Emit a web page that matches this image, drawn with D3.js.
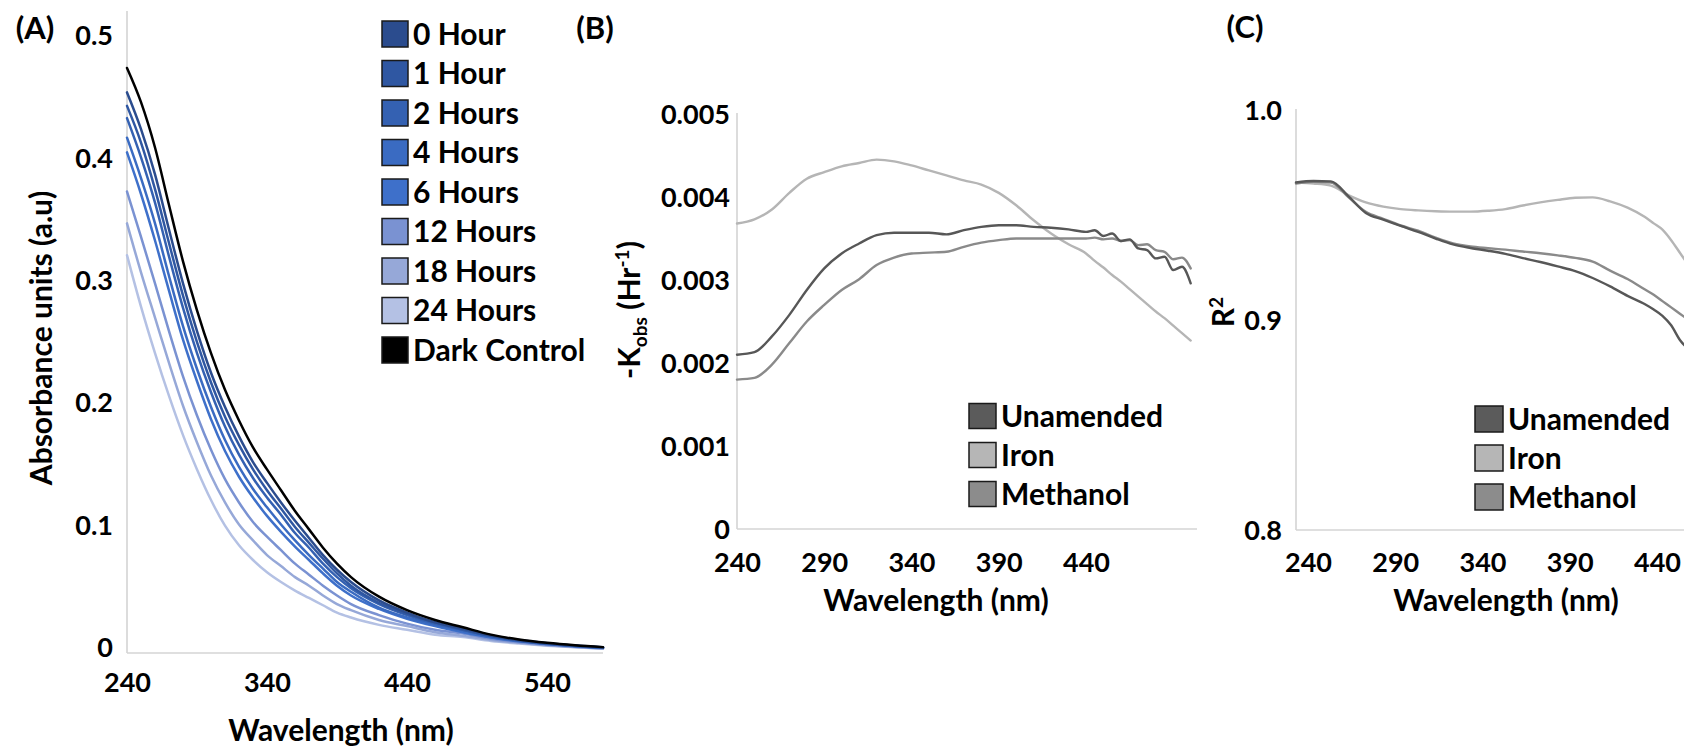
<!DOCTYPE html>
<html>
<head>
<meta charset="utf-8">
<script src="https://cdn.jsdelivr.net/npm/d3@7"></script>
<style>
  html, body { margin: 0; padding: 0; background: #ffffff; }
  svg { display: block; font-family: Lato, "Open Sans", "Noto Sans", sans-serif; font-weight: 700; }
</style>
</head>
<body>
<svg id="fig" width="1684" height="747"></svg>
<script>
// ---------- Panel A: absorbance spectra over irradiation time ----------
const wavelengthsA = [240,250,260,270,280,290,300,310,320,330,340,350,360,370,380,390,400,420,440,460,480,500,520,540,560,580];
const hour0  = [.458,.428,.391,.346,.302,.263,.229,.201,.177,.156,.139,.123,.108,.094,.080,.068,.058,.043,.033,.025,.020,.0143,.0106,.0080,.0061,.0046];
const hour1  = [.447,.417,.379,.335,.292,.254,.221,.193,.170,.150,.133,.118,.103,.090,.077,.065,.055,.041,.032,.025,.019,.0140,.0103,.0078,.0060,.0045];
const hour2  = [.437,.405,.368,.324,.282,.245,.213,.185,.162,.143,.127,.113,.098,.086,.073,.062,.053,.040,.031,.024,.019,.0136,.0101,.0077,.0058,.0044];
const hour4  = [.421,.388,.351,.308,.267,.232,.201,.174,.152,.134,.119,.105,.092,.080,.069,.058,.050,.037,.029,.023,.018,.0131,.0098,.0074,.0057,.0043];
const hour6  = [.409,.375,.337,.296,.256,.222,.191,.165,.144,.127,.112,.099,.087,.076,.065,.055,.047,.036,.028,.022,.017,.0127,.0095,.0073,.0055,.0042];
const hour12 = [.377,.340,.302,.263,.226,.194,.166,.142,.123,.107,.095,.084,.073,.064,.055,.047,.040,.031,.024,.019,.016,.0116,.0088,.0068,.0052,.0039];
const hour18 = [.351,.311,.274,.237,.202,.172,.145,.123,.105,.092,.080,.071,.062,.055,.047,.040,.035,.027,.022,.017,.014,.0107,.0083,.0064,.0049,.0037];
const hour24 = [.325,.283,.245,.210,.178,.150,.125,.104,.088,.076,.066,.058,.051,.045,.039,.033,.029,.023,.019,.015,.013,.0098,.0077,.0060,.0046,.0035];
const darkControl = [.478,.450,.413,.366,.320,.280,.245,.215,.190,.168,.150,.133,.116,.101,.086,.073,.062,.046,.035,.027,.021,.015,.011,.0083,.0063,.0048];

const seriesNamesA = ["0 Hour","1 Hour","2 Hours","4 Hours","6 Hours","12 Hours","18 Hours","24 Hours","Dark Control"];
const seriesValuesA = [hour0,hour1,hour2,hour4,hour6,hour12,hour18,hour24,darkControl];
const seriesColorsA = ["#2b4c8e","#2f57a2","#3461b2","#3a6bc2","#3e70ca","#7a92d2","#96a8d8","#b4c1e4","#000000"];
const xTicksA = [240,340,440,540];
const yTicksA = [0,0.1,0.2,0.3,0.4,0.5];

// ---------- Panels B and C: rate constants and fit quality ----------
const wavelengthsB = [240,250,260,270,280,290,300,310,320,330,340,350,360,370,380,390,400,410,420,430,440,445,450,455,460,465,470,475,480,485,490,495,500];
const kUnamended = [.00210,.00213,.00232,.00258,.00288,.00314,.00332,.00344,.00354,.00357,.00357,.00357,.00355,.00360,.00364,.00366,.00366,.00364,.00363,.00361,.00358,.00360,.00353,.00356,.00347,.00349,.00338,.00336,.00326,.00328,.00312,.00316,.00296];
const kIron      = [.00368,.00373,.00385,.00405,.00422,.00430,.00437,.00441,.00445,.00443,.00438,.00432,.00426,.00420,.00415,.00405,.00390,.00372,.00356,.00343,.00332,.00323,.00315,.00306,.00298,.00289,.00280,.00271,.00262,.00254,.00245,.00236,.00227];
const kMethanol  = [.00180,.00182,.00198,.00224,.00250,.00270,.00288,.00301,.00318,.00327,.00332,.00333,.00334,.00340,.00345,.00348,.00350,.00350,.00350,.00350,.00350,.00351,.00349,.00350,.00347,.00348,.00342,.00343,.00336,.00334,.00325,.00327,.00314];

const wavelengthsC = [240,250,260,270,280,290,300,310,320,330,340,350,360,370,380,390,400,410,420,430,440,445,450,455,460,465];
const r2Unamended = [.9655,.9662,.9660,.9590,.9510,.9478,.9448,.9420,.9388,.9360,.9343,.9330,.9315,.9295,.9276,.9255,.9233,.9200,.9160,.9115,.9075,.9050,.9020,.8975,.8905,.8860];
const r2Iron      = [.9655,.9650,.9640,.9595,.9560,.9540,.9528,.9522,.9518,.9516,.9516,.9520,.9528,.9545,.9560,.9572,.9582,.9584,.9565,.9535,.9490,.9460,.9430,.9380,.9320,.9260];
const r2Methanol  = [.9650,.9658,.9655,.9585,.9515,.9482,.9450,.9425,.9392,.9365,.9350,.9342,.9335,.9326,.9318,.9308,.9296,.9278,.9235,.9195,.9145,.9120,.9090,.9060,.9030,.9000];

const treatmentNames = ["Unamended","Iron","Methanol"];
const treatmentLine  = ["#575757","#b5b5b5","#8a8a8a"];
const treatmentSwatch = ["#5b5b5b","#b6b6b6","#8c8c8c"];
const xTicksBC = [240,290,340,390,440];
const yTicksB = [0,0.001,0.002,0.003,0.004,0.005];
const yTicksC = [0.8,0.9,1.0];

// ---------- drawing ----------
const svg = d3.select("#fig");
const AXIS_GREY = "#d4d4d4";
const TICK_FONT = 27, TITLE_FONT = 30, LEGEND_FONT = 30, PANEL_FONT = 31;

function axisLines(x0, x1, y0, y1) {
  svg.append("line").attr("x1", x0).attr("x2", x0).attr("y1", y0).attr("y2", y1)
    .attr("stroke", AXIS_GREY).attr("stroke-width", 1.6);
  svg.append("line").attr("x1", x0).attr("x2", x1).attr("y1", y1).attr("y2", y1)
    .attr("stroke", AXIS_GREY).attr("stroke-width", 1.6);
}

function styleAxis(g) {
  g.select(".domain").remove();
  g.attr("font-family", null).attr("font-size", null);
  g.selectAll("text").attr("font-size", TICK_FONT).attr("fill", "#000").attr("font-weight", 700);
}

function leftAxis(y, xPos, ticks, fmt, pad, shift) {
  const g = svg.append("g").attr("transform", `translate(${xPos},0)`)
    .call(d3.axisLeft(y).tickValues(ticks).tickFormat(fmt).tickSize(0).tickPadding(pad));
  styleAxis(g);
  g.selectAll("text").attr("dy", "0.36em").attr("y", shift);
}

function bottomAxis(x, yPos, ticks, centerOffset, dx) {
  const g = svg.append("g").attr("transform", `translate(0,${yPos})`)
    .call(d3.axisBottom(x).tickValues(ticks).tickFormat(d3.format("d")).tickSize(0));
  styleAxis(g);
  g.selectAll("text").attr("y", centerOffset).attr("dy", "0.36em").attr("dx", dx);
}

function label(x, y, str, size, anchor) {
  return svg.append("text").attr("x", x).attr("y", y).attr("dy", "0.36em")
    .attr("text-anchor", anchor || "middle").attr("font-size", size).attr("fill", "#000").text(str);
}

function rotatedTitle(cx, cy) {
  return svg.append("text").attr("transform", `translate(${cx},${cy}) rotate(-90)`)
    .attr("text-anchor", "middle").attr("y", 0.36 * TITLE_FONT)
    .attr("font-size", TITLE_FONT).attr("fill", "#000");
}

function drawLines(x, y, wl, values, colors, width) {
  const line = d3.line().x((d, i) => x(wl[i])).y(d => y(d)).curve(d3.curveMonotoneX);
  svg.append("g").selectAll("path").data(values).join("path")
    .attr("d", d => line(d)).attr("fill", "none")
    .attr("stroke", (d, i) => colors[i]).attr("stroke-width", width)
    .attr("stroke-linejoin", "round").attr("stroke-linecap", "round");
}

function legend(x, yFirst, step, names, colors, w, h) {
  const g = svg.append("g");
  names.forEach((n, i) => {
    const cy = yFirst + i * step;
    g.append("rect").attr("x", x).attr("y", cy - h / 2).attr("width", w).attr("height", h)
      .attr("fill", colors[i]).attr("stroke", "#1a1a1a").attr("stroke-width", 1.5);
    g.append("text").attr("x", x + w + 5).attr("y", cy).attr("dy", "0.36em")
      .attr("font-size", LEGEND_FONT).attr("fill", "#000").text(n);
  });
}

// Panel A
const xA = d3.scaleLinear().domain([240, 580]).range([127, 603]);
const yA = d3.scaleLinear().domain([0, 0.5]).range([653, 41]);
axisLines(xA.range()[0], xA.range()[1], 11, yA(0));
leftAxis(yA, xA.range()[0], yTicksA, d => d === 0 ? "0" : d3.format(".1f")(d), 14, -6);
bottomAxis(xA, yA(0), xTicksA, 29, 0);
// lightest series first so the dark control sits on top
const orderA = d3.range(seriesValuesA.length - 1).reverse().concat([seriesValuesA.length - 1]);
drawLines(xA, yA, wavelengthsA, orderA.map(i => seriesValuesA[i]), orderA.map(i => seriesColorsA[i]), 2.5);
legend(382, 34, 39.5, seriesNamesA, seriesColorsA, 26, 26);
label(341, 730, "Wavelength (nm)", TITLE_FONT);
rotatedTitle(41, 338).text("Absorbance units (a.u)");
label(35, 28, "(A)", PANEL_FONT);

// Panel B
const pxPerNm = 1.745;
const xB = d3.scaleLinear().domain([240, 500]).range([737, 737 + 260 * pxPerNm]);
const yB = d3.scaleLinear().domain([0, 0.005]).range([529, 114]);
axisLines(737, 1197, 113, yB(0));
leftAxis(yB, 737, yTicksB, d => d === 0 ? "0" : d3.format(".3f")(d), 7, 0);
bottomAxis(xB, yB(0), xTicksBC, 33, 0);
drawLines(xB, yB, wavelengthsB, [kIron, kMethanol, kUnamended], [treatmentLine[1], treatmentLine[2], treatmentLine[0]], 2.4);
legend(969, 416, 39, treatmentNames, treatmentSwatch, 27, 25);
label(936, 600, "Wavelength (nm)", TITLE_FONT);
{
  const t = rotatedTitle(629, 310);
  t.append("tspan").text("-K");
  t.append("tspan").attr("font-size", 19).attr("dy", 7).text("obs");
  t.append("tspan").attr("dy", -7).text(" (Hr");
  t.append("tspan").attr("font-size", 19).attr("dy", -11).text("-1");
  t.append("tspan").attr("dy", 11).text(")");
}
label(595, 28, "(B)", PANEL_FONT);

// Panel C
const xC = d3.scaleLinear().domain([240, 500]).range([1296, 1296 + 260 * pxPerNm]);
const yC = d3.scaleLinear().domain([0.8, 1.0]).range([530, 110]);
axisLines(1296, 1684, 109, yC(0.8));
leftAxis(yC, 1296, yTicksC, d3.format(".1f"), 14, 0);
bottomAxis(xC, yC(0.8), xTicksBC, 32, 12);
drawLines(xC, yC, wavelengthsC, [r2Iron, r2Methanol, r2Unamended], [treatmentLine[1], treatmentLine[2], treatmentLine[0]], 2.4);
legend(1475, 419, 39, treatmentNames, treatmentSwatch, 28, 26);
label(1506, 600, "Wavelength (nm)", TITLE_FONT);
{
  const t = rotatedTitle(1223, 312);
  t.append("tspan").text("R");
  t.append("tspan").attr("font-size", 19).attr("dy", -11).text("2");
}
label(1245, 27, "(C)", PANEL_FONT);
</script>
</body>
</html>
